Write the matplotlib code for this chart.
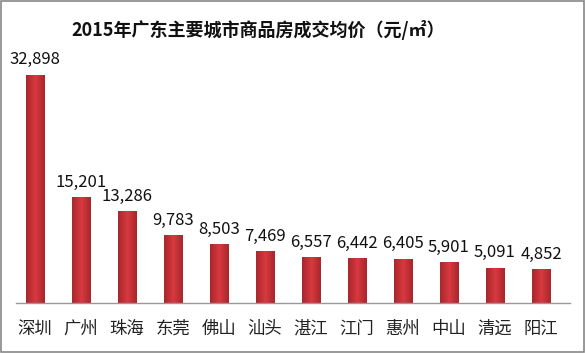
import numpy as np
import matplotlib.pyplot as plt
from matplotlib.colors import LinearSegmentedColormap
from matplotlib.patches import Rectangle

plt.rcParams['font.family'] = ['Noto Sans CJK SC', 'DejaVu Sans']

cities = ['深圳', '广州', '珠海', '东莞', '佛山', '汕头', '湛江', '江门', '惠州', '中山', '清远', '阳江']
prices = [32898, 15201, 13286, 9783, 8503, 7469, 6557, 6442, 6405, 5901, 5091, 4852]

W, H = 586, 353
fig = plt.figure(figsize=(W / 100, H / 100), dpi=100)
ax = fig.add_axes([16 / W, (H - 303) / H, 554 / W, 250 / H])

x = range(len(cities))
bars = ax.bar(x, prices, width=0.4, color='#c8323a', linewidth=0)

# gradient fill: darker edges, brighter middle
cmap = LinearSegmentedColormap.from_list('bar', ['#a8262c', '#d83a40', '#a8262c'])
grad = np.linspace(0, 1, 64).reshape(1, -1)
for b in bars:
    im = ax.imshow(grad, cmap=cmap, aspect='auto', interpolation='bicubic',
                   extent=(b.get_x(), b.get_x() + b.get_width(), 0, b.get_height()), zorder=2)
    im.set_clip_path(b)

for xi, v in zip(x, prices):
    ax.text(xi, v + 900, f'{v:,}', ha='center', va='bottom', fontsize=12, color='#111111')

ax.set_xlim(-0.41, 11.63)
ax.set_ylim(0, 36000)
ax.set_xticks(list(x))
ax.set_xticklabels(cities, fontsize=12.5, color='#222222')
ax.tick_params(axis='x', length=0, pad=12)
ax.set_yticks([])
for s in ['top', 'left', 'right']:
    ax.spines[s].set_visible(False)
ax.spines['bottom'].set_color('#999999')
ax.spines['bottom'].set_linewidth(1)

fig.text(258 / W, 1 - 30 / H, '2015年广东主要城市商品房成交均价（元/㎡）', ha='center', va='center',
         fontsize=13, fontweight='bold', color='#111111')

fig.patches.append(Rectangle((0.002, 0.003), 0.995, 0.993, transform=fig.transFigure,
                             fill=False, edgecolor='#888888', linewidth=1.2))

fig.savefig('out.png', dpi=100)
